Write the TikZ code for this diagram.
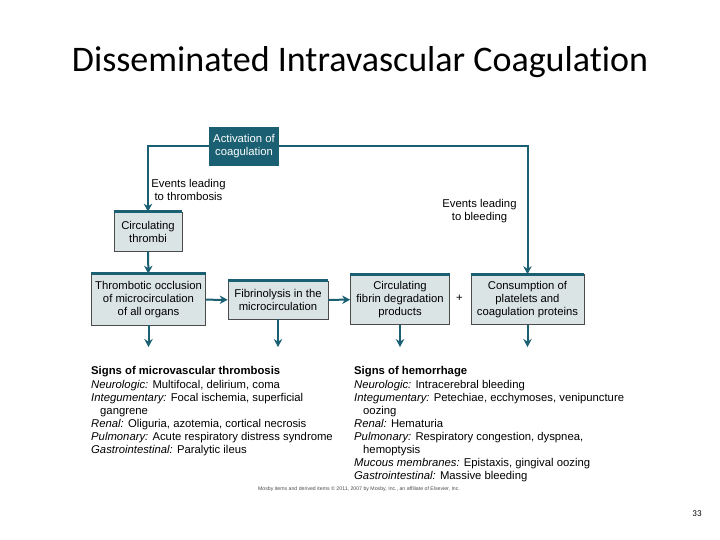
\documentclass[tikz,border=0pt]{standalone}
\usepackage{fontspec}
\setmainfont{Liberation Sans}
\newfontfamily\titlefont[Ligatures=NoCommon]{Carlito}
\usepackage{tikz}
\usetikzlibrary{arrows.meta,positioning}
\definecolor{dicteal}{RGB}{26,96,114}
\definecolor{dicfill}{RGB}{219,228,229}
\definecolor{dicedge}{RGB}{75,75,75}

\begin{document}
\begin{tikzpicture}[
  x=1pt,y=-1pt,
  >={Stealth[length=8pt,width=8.5pt]},
  boxfont/.style={font=\fontsize{11.3}{13}\selectfont},
  stepbox/.style={
    boxfont,draw=dicedge,line width=0.7pt,fill=dicfill,
    align=center,inner sep=0pt
  },
  startbox/.style={
    boxfont,fill=dicteal,text=white,
    align=center,inner sep=0pt,minimum width=70pt,minimum height=39pt
  },
  topbar/.style={draw=dicteal,line width=3pt},
  flow/.style={->,draw=dicteal,line width=2pt},
  signlist/.style={boxfont,align=left,inner sep=0pt,anchor=north west}
]
\useasboundingbox (0,0) rectangle (720,540);

% ---- title and page number ----
\node[font=\titlefont\fontsize{36}{40}\selectfont] (title) at (360,62)
  {Disseminated Intravascular Coagulation};
\node[font=\titlefont\fontsize{9}{10}\selectfont] (pagenum) at (697,514) {33};

% ---- start of the cascade ----
\node[startbox] (act) at (244,146.5) {Activation of\\coagulation};

% ---- thrombosis side ----
\node[stepbox,minimum width=68pt,minimum height=39pt] (thr) at (148,231.5)
  {Circulating\\thrombi};
\node[stepbox,minimum width=114pt,minimum height=51pt] (occ) at (148.5,299.5)
  {Thrombotic occlusion\\of microcirculation\\of all organs};
\node[stepbox,minimum width=100pt,minimum height=38pt] (fib) at (278,300)
  {Fibrinolysis in the\\microcirculation};

% ---- bleeding side ----
\node[stepbox,minimum width=99pt,minimum height=50pt] (fdp) at (400,299.5)
  {Circulating\\fibrin degradation\\products};
\node[stepbox,minimum width=113pt,minimum height=50pt] (con) at (527.5,299.5)
  {Consumption of\\platelets and\\coagulation proteins};
\node[boxfont] (plus) at (459.5,298) {+};

\draw[topbar] (thr.north west) -- (thr.north east);
\draw[topbar] (occ.north west) -- (occ.north east);
\draw[topbar] (fib.north west) -- (fib.north east);
\draw[topbar] (fdp.north west) -- (fdp.north east);
\draw[topbar] (con.north west) -- (con.north east);

% ---- branch labels ----
\node[boxfont,align=center] (lblthr) at (188.5,190) {Events leading\\to thrombosis};
\node[boxfont,align=center] (lblbleed) at (479.5,211) {Events leading\\to bleeding};

% ---- connectors ----
\draw[flow] (act.west) -| (thr.north);
\draw[flow] (act.east) -| (con.north);
\draw[flow] (thr) -- (occ);
\draw[flow] (occ) -- (fib);
\draw[flow] (fib) -- (fdp);

\coordinate (occdown) at (148.5,347);
\coordinate (fibdown) at (278,347);
\coordinate (fdpdown) at (400,347);
\coordinate (condown) at (527.5,347);
\draw[flow] (occ.south) -- (occdown);
\draw[flow] (fib.south) -- (fibdown);
\draw[flow] (fdp.south) -- (fdpdown);
\draw[flow] (con.south) -- (condown);

% ---- clinical signs ----
\node[signlist] (thrsigns) at (91,366) {%
  \textbf{Signs of microvascular thrombosis}\\[1.5pt]
  \textit{Neurologic:} Multifocal, delirium, coma\\
  \textit{Integumentary:} Focal ischemia, superficial\\
  \hspace*{9pt}gangrene\\
  \textit{Renal:} Oliguria, azotemia, cortical necrosis\\
  \textit{Pulmonary:} Acute respiratory distress syndrome\\
  \textit{Gastrointestinal:} Paralytic ileus};

\node[signlist] (bleedsigns) at (354,366) {%
  \textbf{Signs of hemorrhage}\\[1.5pt]
  \textit{Neurologic:} Intracerebral bleeding\\
  \textit{Integumentary:} Petechiae, ecchymoses, venipuncture\\
  \hspace*{9pt}oozing\\
  \textit{Renal:} Hematuria\\
  \textit{Pulmonary:} Respiratory congestion, dyspnea,\\
  \hspace*{9pt}hemoptysis\\
  \textit{Mucous membranes:} Epistaxis, gingival oozing\\
  \textit{Gastrointestinal:} Massive bleeding};

\node[font=\fontsize{5.2}{6}\selectfont,text=black!70] (credit) at (359,489)
  {Mosby items and derived items \copyright\ 2011, 2007 by Mosby, Inc., an affiliate of Elsevier, Inc.};

\end{tikzpicture}
\end{document}
